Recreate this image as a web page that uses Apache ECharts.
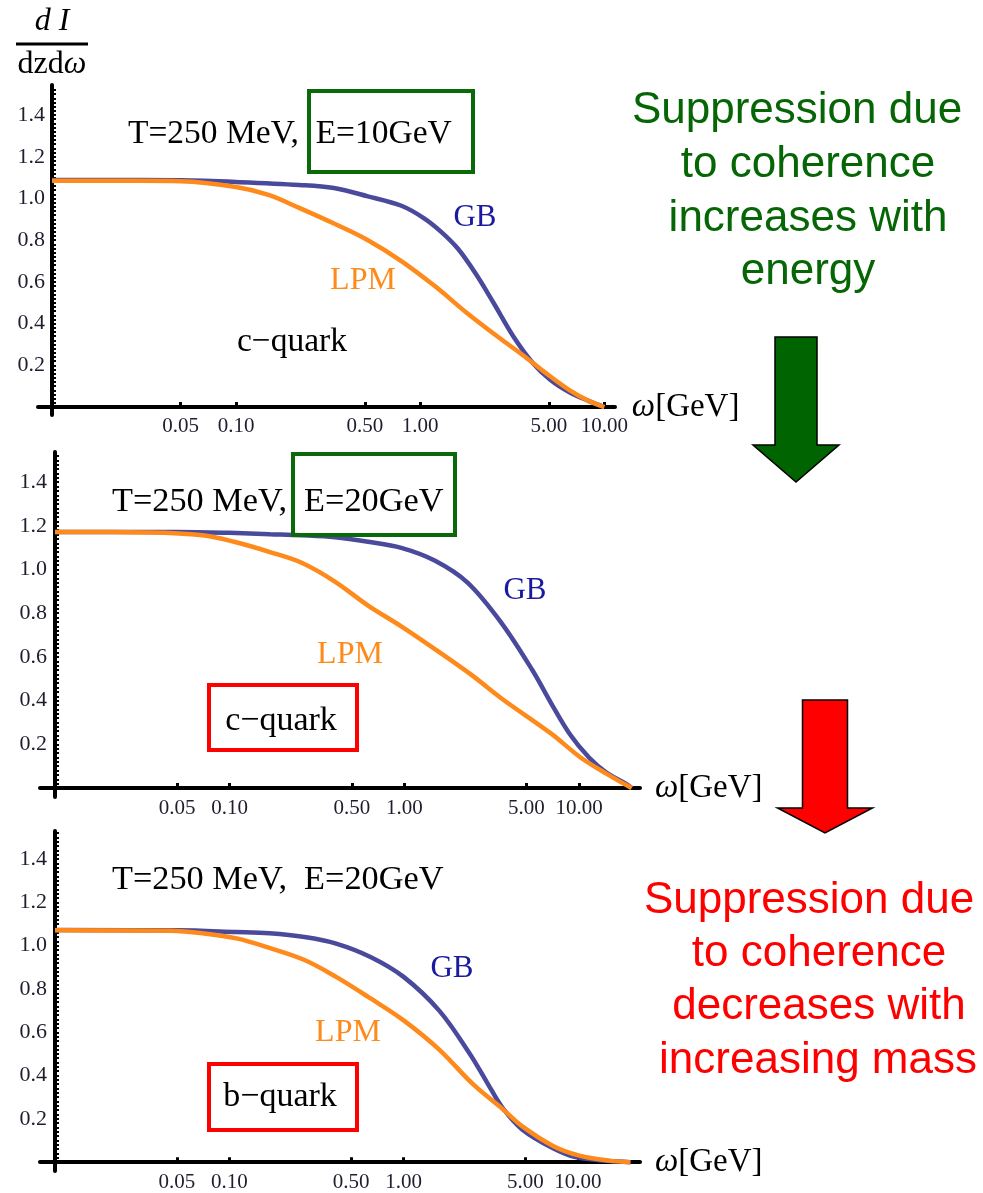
<!DOCTYPE html>
<html>
<head>
<meta charset="utf-8">
<script src="https://cdn.jsdelivr.net/npm/echarts@6/dist/echarts.min.js"></script>
<style>
    html, body { margin: 0; padding: 0; background: #fff; }
    #chart { width: 983px; height: 1193px; }
</style>
</head>
<body>
<div id="chart"></div>
<script type="text/javascript">
    // omega in GeV, dI/dzdw
    const gbOmega1 = [0.01, 0.03, 0.05, 0.1, 0.22, 0.34, 0.52, 0.79, 1.05, 1.3, 1.6, 2.0, 2.5, 3.2, 4.1, 5.1, 6.5, 8.2, 10];
    const gbValue1 = [1.088, 1.088, 1.087, 1.079, 1.065, 1.05, 1.01, 0.965, 0.905, 0.84, 0.76, 0.64, 0.50, 0.34, 0.21, 0.13, 0.07, 0.03, 0.0];
    const lpmOmega1 = [0.01, 0.03, 0.05, 0.1, 0.15, 0.22, 0.34, 0.52, 0.79, 1.2, 1.8, 2.8, 3.6, 4.7, 6.5, 8.2, 10];
    const lpmValue1 = [1.085, 1.085, 1.083, 1.055, 1.017, 0.955, 0.88, 0.80, 0.70, 0.58, 0.45, 0.32, 0.25, 0.17, 0.08, 0.03, 0.0];

    const gbOmega2 = [0.01, 0.05, 0.1, 0.17, 0.26, 0.4, 0.62, 0.96, 1.5, 2.3, 3.6, 5.4, 6.9, 8.8, 11.4, 14.4, 18.5, 20];
    const gbValue2 = [1.172, 1.172, 1.168, 1.162, 1.157, 1.148, 1.127, 1.099, 1.04, 0.94, 0.755, 0.54, 0.39, 0.25, 0.14, 0.07, 0.02, 0.0];
    const lpmOmega2 = [0.01, 0.035, 0.07, 0.106, 0.17, 0.26, 0.4, 0.62, 0.96, 1.5, 2.4, 3.6, 6.9, 10.2, 14.4, 20];
    const lpmValue2 = [1.172, 1.17, 1.157, 1.127, 1.08, 1.03, 0.945, 0.835, 0.74, 0.635, 0.52, 0.41, 0.25, 0.14, 0.065, 0.0];

    const gbOmega3 = [0.01, 0.05, 0.11, 0.17, 0.27, 0.41, 0.65, 1.0, 1.6, 2.4, 3.0, 3.7, 4.8, 7.2, 9.7, 15, 20];
    const gbValue3 = [1.072, 1.071, 1.063, 1.057, 1.04, 1.01, 0.947, 0.856, 0.70, 0.50, 0.37, 0.25, 0.15, 0.064, 0.023, 0.005, 0.0];
    const lpmOmega3 = [0.01, 0.046, 0.071, 0.11, 0.17, 0.27, 0.41, 0.65, 1.0, 1.6, 2.5, 3.7, 4.8, 7.2, 10.2, 15, 20];
    const lpmValue3 = [1.071, 1.069, 1.057, 1.034, 0.99, 0.934, 0.856, 0.755, 0.655, 0.52, 0.36, 0.245, 0.165, 0.075, 0.03, 0.007, 0.0];

    const xTicks = [0.05, 0.1, 0.5, 1, 5, 10];
    const yTicks = [0.2, 0.4, 0.6, 0.8, 1.0, 1.2, 1.4];
    // small ticks every 0.02 along the y axis
    const yAllTicks = [];
    for (let i = 1; i <= 76; i++) {
        yAllTicks.push(i / 50);
    }

    const OMEGA_REF = 0.01;   // the y axis crosses at omega = 0.01 GeV
    const SERIF = '"Liberation Serif", "DejaVu Serif", serif';
    const SANS = '"Liberation Sans", Arial, sans-serif';
    const GB_COLOR = '#4a4a9c';
    const LPM_COLOR = '#ff8a1c';
    const GREEN = '#0a6a0a';

    // log scale drawn on a value axis: u = log10(omega / OMEGA_REF)
    function u(w) {
        return Math.log10(w / OMEGA_REF);
    }

    function pairs(ws, vs) {
        return ws.map(function (w, i) { return [u(w), vs[i]]; });
    }

    const panels = [
        {left: 38, top: 85, width: 577, height: 330, uMin: -0.076, uMax: 3.058, yMin: -0.038, yMax: 1.544, nameGap: -9,
            gb: pairs(gbOmega1, gbValue1), lpm: pairs(lpmOmega1, lpmValue1)},
        {left: 40, top: 452, width: 600, height: 345, uMin: -0.086, uMax: 3.349, yMin: -0.041, yMax: 1.538, nameGap: 15,
            gb: pairs(gbOmega2, gbValue2), lpm: pairs(lpmOmega2, lpmValue2)},
        {left: 40, top: 831, width: 600, height: 342, uMin: -0.086, uMax: 3.356, yMin: -0.041, yMax: 1.53, nameGap: 15,
            gb: pairs(gbOmega3, gbValue3), lpm: pairs(lpmOmega3, lpmValue3)}
    ];

    let grid = [], xAxis = [], yAxis = [], series = [];
    panels.forEach(function (p, i) {
        grid.push({left: p.left, top: p.top, width: p.width, height: p.height});
        xAxis.push({
            type: 'value', gridIndex: i, min: p.uMin, max: p.uMax,
            name: '{w|ω}[GeV]', nameLocation: 'end', nameGap: p.nameGap,
            nameTextStyle: {
                fontFamily: SERIF, fontSize: 33, color: '#000',
                rich: {w: {fontFamily: SERIF, fontSize: 33, fontStyle: 'italic', color: '#000'}}
            },
            axisLine: {onZero: true, lineStyle: {color: '#000', width: 4}},
            axisTick: {show: true, inside: true, length: 5, customValues: xTicks.map(u), lineStyle: {color: '#000', width: 3}},
            axisLabel: {
                customValues: xTicks.map(u), margin: 1,
                fontFamily: SERIF, fontSize: 21, color: '#1e1e2e',
                formatter: function (v) { return (OMEGA_REF * Math.pow(10, v)).toFixed(2); }
            },
            splitLine: {show: false}
        });
        yAxis.push({
            type: 'value', gridIndex: i, min: p.yMin, max: p.yMax, position: 'left',
            axisLine: {show: true, onZero: true, lineStyle: {color: '#000', width: 4}},
            axisTick: {show: true, inside: true, length: 4, customValues: yAllTicks, lineStyle: {color: '#000', width: 2}},
            axisLabel: {
                customValues: yTicks, margin: -7,
                fontFamily: SERIF, fontSize: 22, color: '#1e1e2e',
                formatter: function (v) { return v.toFixed(1); }
            },
            splitLine: {show: false}
        });
        series.push({
            name: 'GB', type: 'line', xAxisIndex: i, yAxisIndex: i, data: p.gb,
            smooth: 0.35, showSymbol: false, z: 2,
            lineStyle: {color: GB_COLOR, width: 4.5}
        });
        series.push({
            name: 'LPM', type: 'line', xAxisIndex: i, yAxisIndex: i, data: p.lpm,
            smooth: 0.35, showSymbol: false, z: 3,
            lineStyle: {color: LPM_COLOR, width: 4.5}
        });
    });

    function label(text, x, y, size, color, align, extra) {
        return {
            type: 'text', x: x, y: y, z: 100,
            style: Object.assign({
                text: text, fontFamily: SERIF, fontSize: size, fill: color,
                align: align || 'center', verticalAlign: 'middle'
            }, extra || {})
        };
    }

    function box(x0, y0, x1, y1, color) {
        return {
            type: 'rect', z: 100,
            shape: {x: x0 + 2, y: y0 + 2, width: x1 - x0 - 4, height: y1 - y0 - 4},
            style: {fill: 'none', stroke: color, lineWidth: 4}
        };
    }

    function arrow(cx, shaftHalf, headHalf, yTop, yHead, yTip, color) {
        return {
            type: 'polygon', z: 100,
            shape: {points: [
                [cx - shaftHalf, yTop], [cx + shaftHalf, yTop], [cx + shaftHalf, yHead], [cx + headHalf, yHead],
                [cx, yTip], [cx - headHalf, yHead], [cx - shaftHalf, yHead]
            ]},
            style: {fill: color, stroke: '#000', lineWidth: 1.5}
        };
    }

    function sansLine(text, x, y, color) {
        return label(text, x, y, 44, color, 'center', {fontFamily: SANS});
    }

    const graphics = [
        // y axis title dI / dzdw
        label('d I', 52, 22, 32, '#000', 'center', {fontStyle: 'italic'}),
        {type: 'line', z: 100, shape: {x1: 16, y1: 44, x2: 88, y2: 44}, style: {stroke: '#000', lineWidth: 3}},
        label('dzd{w|ω}', 52, 65, 32, '#000', 'center', {
            rich: {w: {fontFamily: SERIF, fontSize: 32, fontStyle: 'italic', fill: '#000'}}
        }),

        // panel 1
        label('T=250 MeV,  E=10GeV', 128, 134, 33.5, '#000', 'left'),
        box(307, 89, 475, 174, GREEN),
        label('GB', 475, 218, 31, '#1a1aa0'),
        label('LPM', 363, 281, 32, LPM_COLOR),
        label('c\u2212quark', 292, 342, 33.5, '#000'),

        // panel 2
        label('T=250 MeV,  E=20GeV', 112, 502, 34.3, '#000', 'left'),
        box(291, 452, 457, 537, GREEN),
        label('GB', 525, 591, 31, '#1a1aa0'),
        label('LPM', 350, 655, 32, LPM_COLOR),
        box(207, 683, 359, 752, '#ff0000'),
        label('c\u2212quark', 281, 721, 34, '#000'),

        // panel 3
        label('T=250 MeV,  E=20GeV', 112, 880, 34.3, '#000', 'left'),
        label('GB', 452, 969, 31, '#1a1aa0'),
        label('LPM', 348, 1033, 32, LPM_COLOR),
        box(207, 1062, 359, 1132, '#ff0000'),
        label('b\u2212quark', 280, 1097, 34, '#000'),

        // right hand notes
        sansLine('Suppression due', 797, 111, '#066606'),
        sansLine('to coherence', 808, 165, '#066606'),
        sansLine('increases with', 808, 219, '#066606'),
        sansLine('energy', 808, 272, '#066606'),
        arrow(796, 21, 43, 337, 445, 482, '#006400'),
        arrow(825, 22.5, 47.5, 700, 808, 833, '#ff0000'),
        sansLine('Suppression due', 809, 901, '#ff0000'),
        sansLine('to coherence', 819, 954, '#ff0000'),
        sansLine('decreases with', 819, 1007, '#ff0000'),
        sansLine('increasing mass', 818, 1061, '#ff0000')
    ];

    let myChart = echarts.init(document.getElementById('chart'));
    myChart.setOption({
        backgroundColor: '#fff',
        animation: false,
        grid: grid,
        xAxis: xAxis,
        yAxis: yAxis,
        series: series,
        graphic: {elements: graphics}
    });
</script>
</body>
</html>
